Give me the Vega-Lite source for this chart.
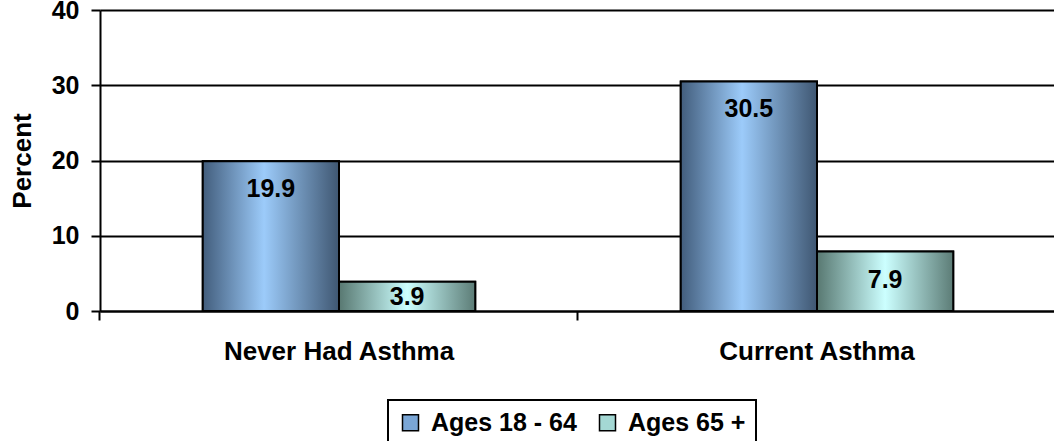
{
  "$schema": "https://vega.github.io/schema/vega-lite/v6.json",
  "width": 956,
  "height": 301,
  "autosize": "none",
  "padding": {"left": 100, "top": 10, "right": 0, "bottom": 130},
  "background": "white",
  "config": {"view": {"stroke": null}, "font": "Liberation Sans"},
  "data": {"values": [
    {"status": "Never Had Asthma", "age": "Ages 18 - 64", "value": 19.9},
    {"status": "Never Had Asthma", "age": "Ages 65 +", "value": 3.9},
    {"status": "Current Asthma", "age": "Ages 18 - 64", "value": 30.5},
    {"status": "Current Asthma", "age": "Ages 65 +", "value": 7.9}
  ]},
  "encoding": {
    "x": {
      "field": "status", "type": "nominal",
      "sort": ["Never Had Asthma", "Current Asthma"],
      "scale": {"paddingInner": 0.43, "paddingOuter": 0.215},
      "axis": {
        "title": null, "labelAngle": 0, "labelFont": "Liberation Sans", "labelFontSize": 26,
        "labelFontWeight": "bold", "labelColor": "black", "labelPadding": 18, "labelLimit": 500,
        "domainColor": "black", "domainWidth": 2, "tickColor": "black", "tickWidth": 2,
        "tickSize": 9, "bandPosition": -0.3772, "grid": false
      }
    },
    "xOffset": {"field": "age", "type": "nominal", "sort": ["Ages 18 - 64", "Ages 65 +"]},
    "y": {
      "field": "value", "type": "quantitative",
      "scale": {"domain": [0, 40], "nice": false},
      "axis": {
        "title": "Percent", "titleFont": "Liberation Sans", "titleFontSize": 26, "titleFontWeight": "bold",
        "titleColor": "black", "titlePadding": 16,
        "values": [0, 10, 20, 30, 40], "labelFont": "Liberation Sans", "labelFontSize": 25,
        "labelFontWeight": "bold", "labelColor": "black", "labelPadding": 12,
        "domainColor": "black", "domainWidth": 2, "tickColor": "black", "tickWidth": 2, "tickSize": 9,
        "grid": true, "gridColor": "black", "gridWidth": 2, "gridOpacity": 1
      }
    }
  },
  "layer": [
    {
      "mark": {"type": "bar", "stroke": "black", "strokeWidth": 2},
      "encoding": {
        "color": {
          "field": "age", "type": "nominal", "sort": ["Ages 18 - 64", "Ages 65 +"],
          "scale": {"range": ["#7aa6d6", "#a4d8d4"]},
          "legend": {
            "title": null, "orient": "none", "legendX": 288, "legendY": 390, "direction": "horizontal",
            "symbolType": "square", "symbolSize": 256, "symbolStrokeColor": "black", "symbolStrokeWidth": 1.5,
            "labelFont": "Liberation Sans", "labelFontSize": 25, "labelFontWeight": "bold", "labelColor": "black",
            "labelOffset": 8, "columnPadding": 18, "padding": 10, "strokeColor": "black",
            "encode": {
              "legend": {"update": {"strokeWidth": {"value": 2}}}
            }
          }
        }
      }
    },
    {
      "transform": [{"filter": "datum.age === 'Ages 18 - 64'"}],
      "mark": {"type": "bar", "stroke": "black", "strokeWidth": 2,
        "color": {"gradient": "linear", "x1": 0, "y1": 0, "x2": 1, "y2": 0,
          "stops": [{"offset": 0, "color": "#425d7c"}, {"offset": 0.45, "color": "#9ccbfa"}, {"offset": 1, "color": "#3f5772"}]}}
    },
    {
      "transform": [{"filter": "datum.age === 'Ages 65 +'"}],
      "mark": {"type": "bar", "stroke": "black", "strokeWidth": 2,
        "color": {"gradient": "linear", "x1": 0, "y1": 0, "x2": 1, "y2": 0,
          "stops": [{"offset": 0, "color": "#587871"}, {"offset": 0.5, "color": "#ccffff"}, {"offset": 1, "color": "#5c7c76"}]}}
    },
    {
      "mark": {"type": "text", "font": "Liberation Sans", "fontSize": 25, "fontWeight": "bold", "color": "black",
               "baseline": "middle", "dy": {"expr": "datum.value < 5 ? 15 : 28"}},
      "encoding": {"text": {"field": "value", "type": "quantitative", "format": ".1f"}}
    }
  ]
}
